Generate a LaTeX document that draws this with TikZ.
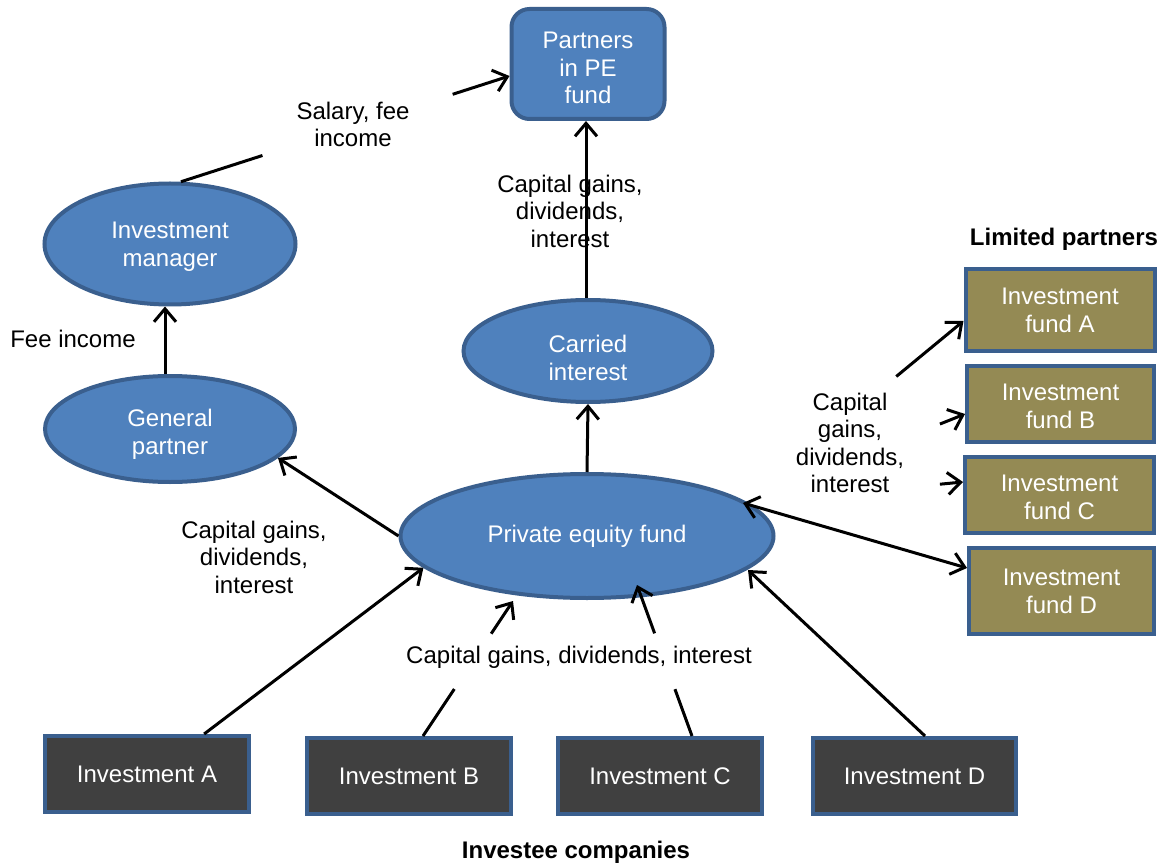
\documentclass[tikz,border=0pt]{standalone}
\usepackage{fontspec}
\setmainfont{Liberation Sans}
\usetikzlibrary{arrows.meta,shapes.geometric,calc}
\definecolor{pblue}{HTML}{4F81BD}
\definecolor{pborder}{HTML}{3A5F8E}
\definecolor{polive}{HTML}{948A54}
\definecolor{pdark}{HTML}{404040}
\tikzset{tipA/.tip={Straight Barb[length=13pt,width=22pt]}}
\newcommand{\lowr}[2]{\raisebox{-#1}[\height][\depth]{\begin{tabular}{@{}c@{}}#2\end{tabular}}}
\begin{document}
\begin{tikzpicture}[x=1pt,y=-1pt,
 every node/.style={font=\fontsize{24}{27.5}\selectfont, align=center, inner sep=0pt},
 oval/.style={ellipse, draw=pborder, line width=4pt, fill=pblue, text=white},
 pbox/.style={rectangle, draw=pborder, line width=4pt, text=white},
 flow/.style={line width=3pt, -tipA},
 both/.style={line width=3pt, tipA-tipA},
 plain/.style={line width=3pt},
 hdr/.style={font=\bfseries\fontsize{24}{28}\selectfont}
]
\useasboundingbox[fill=white] (0,0) rectangle (1169,866);

% nodes
\node[pbox, fill=pblue, rounded corners=18pt, minimum width=153pt, minimum height=110pt] (pp) at (588,64) {\lowr{7pt}{Partners\\in PE\\fund}};
\node[oval, minimum width=251pt, minimum height=121pt] (im) at (170,244) {\lowr{3pt}{Investment\\manager}};
\node[oval, minimum width=250pt, minimum height=106pt] (gp) at (170,429) {\lowr{6pt}{General\\partner}};
\node[oval, minimum width=249pt, minimum height=102pt] (ci) at (588,351) {\lowr{10pt}{Carried\\interest}};
\node[oval, minimum width=373pt, minimum height=124pt] (pe) at (587,536) {\lowr{1pt}{Private equity fund}};

\node[pbox, fill=polive, minimum width=189pt, minimum height=82pt] (fa) at (1060,310) {\lowr{3pt}{Investment\\fund A}};
\node[pbox, fill=polive, minimum width=187pt, minimum height=76pt] (fb) at (1060.5,404) {\lowr{5pt}{Investment\\fund B}};
\node[pbox, fill=polive, minimum width=189pt, minimum height=76pt] (fc) at (1059.5,495) {\lowr{5pt}{Investment\\fund C}};
\node[pbox, fill=polive, minimum width=185pt, minimum height=86pt] (fd) at (1061.5,591) {\lowr{3pt}{Investment\\fund D}};

\node[pbox, fill=pdark, minimum width=204pt, minimum height=76pt] (ia) at (147,774) {Investment A};
\node[pbox, fill=pdark, minimum width=204pt, minimum height=76pt] (ib) at (409,776) {Investment B};
\node[pbox, fill=pdark, minimum width=204pt, minimum height=76pt] (ic) at (660,776) {Investment C};
\node[pbox, fill=pdark, minimum width=203pt, minimum height=76pt] (id) at (914.5,776) {Investment D};

% labels
\node[hdr] (lp) at (1064,239) {Limited partners};
\node[hdr] (lic) at (576,852) {Investee companies};
\node (lsal) at (353,124.5) {Salary, fee\\income};
\node (ltop) at (570,211) {Capital gains,\\dividends,\\interest};
\node (lfee) at (73,339) {Fee income};
\node (lleft) at (254,557) {Capital gains,\\dividends,\\interest};
\node (lbot) at (579,657) {Capital gains, dividends, interest};
\node (lright) at (850,443) {Capital\\gains,\\dividends,\\interest};

% connectors
\coordinate (imA) at (im.80);
\coordinate (ppA) at ($(pp.west)+(0,12)$);
\draw[plain] (imA) -- ($(imA)!0.248!(ppA)$);
\draw[flow] ($(imA)!0.827!(ppA)$) -- (ppA);

\draw[flow] ([xshift=-5pt]gp.north) -- ([xshift=-5pt]im.south);
\draw[flow] ([xshift=-2pt]ci.north) -- ([xshift=-2pt]pp.south);
\draw[flow] (pe.north) -- (ci.south);
\draw[flow] (pe.west) -- (gp.-15);

\draw[flow] (ia.35) -- (pe.191);

\coordinate (ibA) at ([xshift=14pt]ib.north);
\coordinate (peB) at ($(pe.center)+(-74,65)$);
\draw[plain] (ibA) -- ($(ibA)!0.348!(peB)$);
\draw[flow] ($(ibA)!0.758!(peB)$) -- (peB);

\coordinate (icA) at ([xshift=32pt]ic.north);
\coordinate (peC) at ($(pe.center)+(50,49)$);
\draw[plain] (icA) -- ($(icA)!0.31!(peC)$);
\draw[flow] ($(icA)!0.68!(peC)$) -- (peC);

\coordinate (peD) at ($(pe.center)+(161,34)$);
\draw[flow] ([xshift=10.5pt]id.north) -- (peD);

\coordinate (peR) at ($(pe.center)+(156,-33)$);
\coordinate (fdA) at ($(fd.west)+(0,-23)$);
\draw[both] (peR) -- (fdA);
\coordinate (faA) at ($(fa.west)+(0,11)$);
\draw[flow] ($(peR)!0.695!(faA)$) -- (faA);
\coordinate (fbA) at ($(fb.west)+(0,10)$);
\draw[flow] ($(peR)!0.887!(fbA)$) -- (fbA);
\coordinate (fcA) at ($(fc.west)+(0,-13)$);
\draw[flow] ($(peR)!0.895!(fcA)$) -- (fcA);
\end{tikzpicture}
\end{document}
